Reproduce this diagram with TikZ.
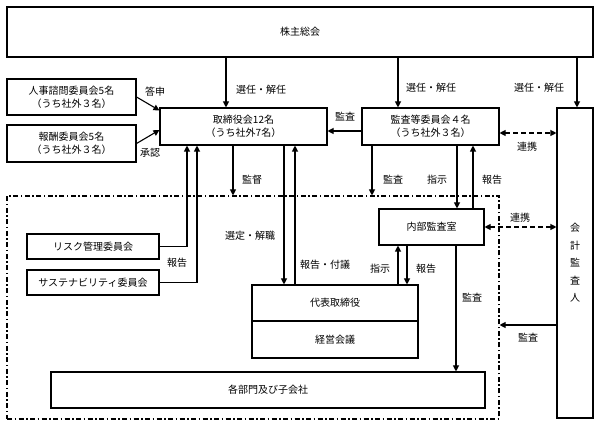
\documentclass[tikz,border=0pt]{standalone}
\usepackage{fontspec}
\setmainfont{Noto Sans CJK JP}
\usetikzlibrary{arrows.meta, positioning, calc}

\begin{document}
\begin{tikzpicture}[x=1pt, y=-1pt, font=\fontsize{10}{13}\selectfont,
    box/.style={draw, line width=1.1pt, align=center, inner sep=0pt},
    lbl/.style={inner sep=1pt},
    arr/.style={line width=1.1pt, -{Triangle[length=6pt,width=6pt]}},
    link/.style={line width=1.1pt, dash pattern=on 5pt off 3pt,
        {Triangle[length=6pt,width=6pt]}-{Triangle[length=6pt,width=6pt]}},
    zone/.style={draw, line width=1.1pt, dash pattern=on 5pt off 2.5pt on 1.5pt off 2.5pt, inner sep=0pt}]
        \useasboundingbox (0,0) rectangle (600,427);

        % Boxes
        \node[zone, minimum width=492pt, minimum height=223pt] (grp) at (253,307.5) {};

        \node[box, minimum width=586pt, minimum height=50pt] (soukai) at (300,32) {株主総会};

        \node[box, minimum width=129pt, minimum height=36pt] (jinji) at (71.5,97) {人事諮問委員会5名\\（うち社外３名）};
        \node[box, minimum width=129pt, minimum height=37pt] (houshu) at (71.5,143.5) {報酬委員会5名\\（うち社外３名）};

        \node[box, minimum width=167pt, minimum height=37pt] (torishimari) at (243.5,126.5) {取締役会12名\\（うち社外7名）};
        \node[box, minimum width=137pt, minimum height=37pt] (kansatou) at (430.5,126.5) {監査等委員会４名\\（うち社外３名）};
        \node[box, minimum width=36pt, minimum height=310pt, font=\fontsize{10}{17.5}\selectfont] (kaikei) at (575,263) {会\\計\\監\\査\\人};

        \node[box, minimum width=105pt, minimum height=36pt] (naibu) at (431.5,227) {内部監査室};
        \node[box, minimum width=132pt, minimum height=25pt] (risk) at (93,246.5) {リスク管理委員会};
        \node[box, minimum width=132pt, minimum height=25pt] (sustain) at (93,282.5) {サステナビリティ委員会};

        \node[box, minimum width=166pt, minimum height=36pt] (daihyou) at (335,303) {代表取締役};
        \node[box, minimum width=166pt, minimum height=37pt] (keiei) at (335,339.5) {経営会議};
        \node[box, minimum width=434pt, minimum height=36pt] (kakubu) at (268,390) {各部門及び子会社};

        % Connectors
        \draw[arr] ([xshift=-17.5pt]torishimari.north |- soukai.south) -- ([xshift=-17.5pt]torishimari.north);
        \draw[arr] ([xshift=-32.5pt]kansatou.north |- soukai.south) -- ([xshift=-32.5pt]kansatou.north);
        \draw[arr] ([xshift=2pt]kaikei.north |- soukai.south) -- ([xshift=2pt]kaikei.north);

        \draw[arr] (jinji.east) -- ([yshift=-3pt]torishimari.north west);
        \draw[arr] (houshu.east) -- ([yshift=-3.5pt]torishimari.west);

        \draw[arr] (risk.east) -| ([xshift=-56.5pt]torishimari.south);
        \draw[arr] (sustain.east) -| ([xshift=-46.5pt]torishimari.south);
        \draw[arr] ([xshift=-10.5pt]torishimari.south) -- ([xshift=-10.5pt]torishimari.south |- grp.north);
        \draw[arr] ([xshift=-51pt]daihyou.north |- torishimari.south) -- ([xshift=-51pt]daihyou.north);
        \draw[arr] ([xshift=-40pt]daihyou.north) -- ([xshift=-40pt]daihyou.north |- torishimari.south);

        \draw[arr] ([yshift=-4.5pt]kansatou.west) -- ([yshift=-4.5pt]kansatou.west -| torishimari.east);
        \draw[link] ([yshift=-6.5pt]kansatou.east) -- ([yshift=-6.5pt]kansatou.east -| kaikei.west);
        \draw[arr] ([xshift=-58.5pt]kansatou.south) -- ([xshift=-58.5pt]kansatou.south |- grp.north);
        \draw[arr] ([xshift=25.5pt]naibu.north |- kansatou.south) -- ([xshift=25.5pt]naibu.north);
        \draw[arr] ([xshift=41.5pt]naibu.north) -- ([xshift=41.5pt]naibu.north |- kansatou.south);

        \draw[link] (naibu.east) -- (naibu.east -| kaikei.west);
        \draw[arr] ([xshift=-33.5pt]naibu.south |- daihyou.north) -- ([xshift=-33.5pt]naibu.south);
        \draw[arr] ([xshift=-24.5pt]naibu.south) -- ([xshift=-24.5pt]naibu.south |- daihyou.north);
        \draw[arr] ([xshift=24.5pt]naibu.south) -- ([xshift=24.5pt]naibu.south |- kakubu.north);
        \draw[arr] ([yshift=-62pt]kaikei.west) -- ([yshift=-62pt]kaikei.west -| grp.east);

        % Labels
        \node[lbl] (toushin) at (155,92) {答申};
        \node[lbl] (shounin) at (150,153) {承認};
        \node[lbl] (sennin1) at (261,90) {選任・解任};
        \node[lbl] (sennin2) at (431,88) {選任・解任};
        \node[lbl] (sennin3) at (539,88) {選任・解任};
        \node[lbl] (kansa1) at (345,117) {監査};
        \node[lbl] (renkei1) at (527,147) {連携};
        \node[lbl] (kantoku) at (252,180) {監督};
        \node[lbl] (kansa2) at (393,180) {監査};
        \node[lbl] (shiji1) at (437,180) {指示};
        \node[lbl] (houkoku1) at (492,180) {報告};
        \node[lbl] (renkei2) at (520,218) {連携};
        \node[lbl] (sentei) at (250,236) {選定・解職};
        \node[lbl] (houkoku2) at (177,263) {報告};
        \node[lbl] (fugi) at (325,265) {報告・付議};
        \node[lbl] (shiji2) at (380,269) {指示};
        \node[lbl] (houkoku3) at (426,269) {報告};
        \node[lbl] (kansa3) at (472,298) {監査};
        \node[lbl] (kansa4) at (528,338) {監査};
    \end{tikzpicture}
\end{document}
